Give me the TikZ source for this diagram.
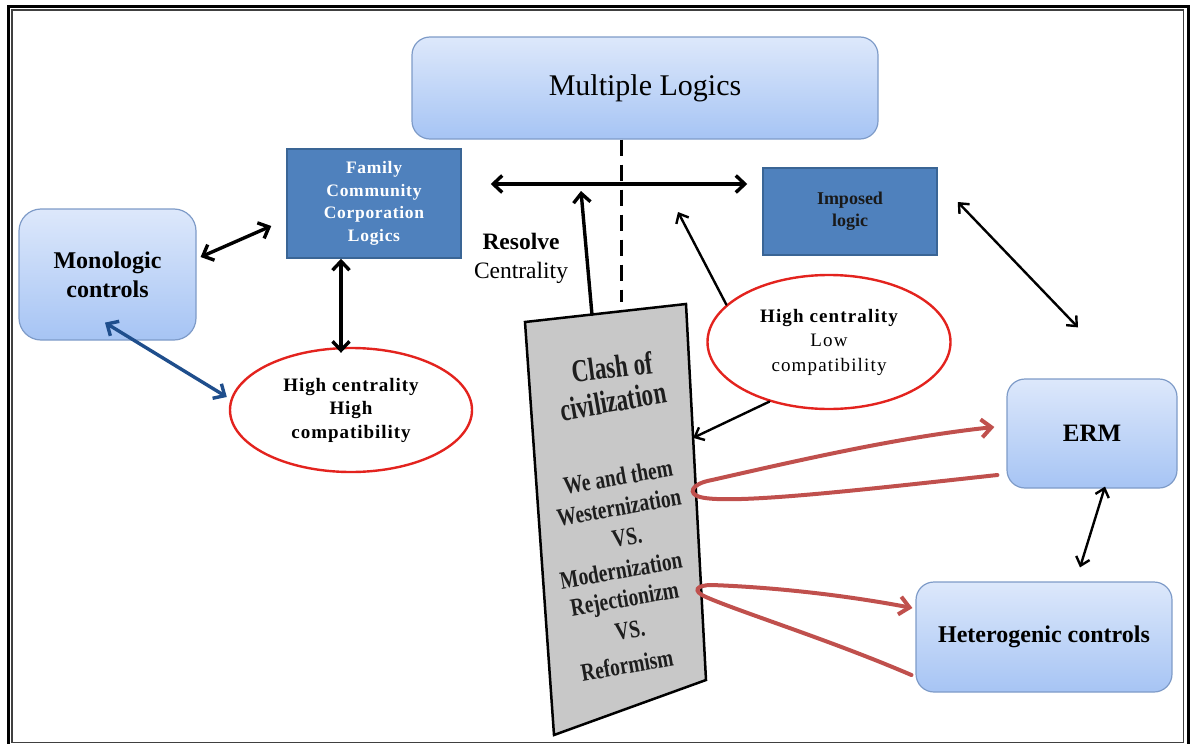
\documentclass[tikz,border=0pt]{standalone}
\usepackage{fontspec}
\setmainfont{Liberation Serif}
\usetikzlibrary{arrows.meta,calc,shapes.geometric}

\definecolor{boxtop}{HTML}{DDE8FB}
\definecolor{boxbot}{HTML}{A6C4F4}
\definecolor{boxline}{HTML}{7E9BC8}
\definecolor{logicfill}{HTML}{4F81BD}
\definecolor{logicline}{HTML}{3A6595}
\definecolor{ovalred}{HTML}{E3231E}
\definecolor{loopred}{HTML}{C0504D}
\definecolor{linkblue}{HTML}{1F4E8C}
\definecolor{clashgray}{HTML}{C8C8C8}
\definecolor{clashink}{HTML}{1E1E1E}

\newcommand{\pxsize}[2]{\fontsize{#1}{#2}\selectfont}

\begin{document}
\begin{tikzpicture}[x=1pt,y=-1pt,
  roundbox/.style={draw=boxline,line width=1.2pt,rounded corners=18pt,
    top color=boxtop,bottom color=boxbot,align=center,inner sep=0pt},
  logicbox/.style={draw=logicline,line width=1.5pt,fill=logicfill,
    align=center,inner sep=0pt},
  oval/.style={ellipse,draw=ovalred,line width=2.4pt,align=center,inner sep=0pt},
  clashtext/.style={rotate=10,xscale=0.78,text=clashink,inner sep=0pt,
    font=\bfseries\pxsize{25}{25}},
  heavy/.style={line width=3.4pt,line cap=round},
  light/.style={line width=2.4pt,line cap=round},
  twoway/.style={{Straight Barb[length=9pt,width=17pt]}-{Straight Barb[length=9pt,width=17pt]}},
  oneway/.style={-{Straight Barb[length=9pt,width=17pt]}},
  twowaysmall/.style={{Straight Barb[length=8pt,width=14pt]}-{Straight Barb[length=8pt,width=14pt]}},
  onewaysmall/.style={-{Straight Barb[length=8pt,width=14pt]}},
  redloop/.style={draw=loopred,line width=4pt,line cap=round,
    -{Straight Barb[length=10pt,width=18pt]}}
]
\useasboundingbox (0,0) rectangle (1192,744);

% double page frame
\draw[line width=3.4pt] (8.5,6.5) rectangle (1188.3,750);
\draw[line width=1.3pt,black!75] (12,10) rectangle (1183.5,742.5);

% boxes
\node[roundbox,minimum width=466pt,minimum height=102pt,font=\pxsize{30}{36}]
  (ml) at (645,88) {\raisebox{-2pt}{Multiple Logics}};
\node[logicbox,minimum width=174pt,minimum height=109pt,text=white,
  font=\bfseries\pxsize{17.5}{22.5}\addfontfeatures{LetterSpace=4}]
  (fam) at (374,203.5) {Family\\Community\\Corporation\\Logics};
\node[logicbox,minimum width=174pt,minimum height=87pt,text=black!90,
  font=\bfseries\pxsize{18}{22}]
  (imp) at (850,211.5) {\raisebox{-2pt}{Imposed}\\\raisebox{-2pt}{logic}};
\node[roundbox,rounded corners=22pt,minimum width=177pt,minimum height=131pt,
  font=\bfseries\pxsize{24}{29}]
  (mono) at (107.5,274.5) {Monologic\\controls};
\node[roundbox,minimum width=170pt,minimum height=109pt,font=\bfseries\pxsize{25}{30}]
  (erm) at (1092,433.5) {ERM};
\node[roundbox,minimum width=256pt,minimum height=110pt,font=\bfseries\pxsize{24}{30}]
  (het) at (1044,637) {Heterogenic controls};

% ovals
\node[oval,minimum width=242pt,minimum height=124pt,
  font=\bfseries\pxsize{19}{23.5}\addfontfeatures{LetterSpace=5}]
  (ell1) at (351,410) {High centrality\\High\\compatibility};
\node[oval,minimum width=243pt,minimum height=134pt,
  font=\pxsize{19}{24.5}\addfontfeatures{LetterSpace=6}]
  (ell2) at (829,342) {{\bfseries High centrality}\\Low\\compatibility};

% resolve label
\node[align=center,inner sep=0pt,font=\pxsize{23.5}{29}]
  (res) at (521,258) {\textbf{Resolve}\\Centrality};

% clash of civilization panel
\coordinate (cTL) at (525,322);
\coordinate (cTR) at (686,304);
\coordinate (cBR) at (706,680);
\coordinate (cBL) at (554,735);
\coordinate (dashend) at (621,302);
\coordinate (resolvetip) at (581,191);
\coordinate (impliedtip) at (678,212);

\draw[line width=3pt,dash pattern=on 16pt off 9pt] ([xshift=-24pt]ml.south) -- (dashend);

\draw[line width=2.5pt,fill=clashgray,line join=miter] (cTL) -- (cTR) -- (cBR) -- (cBL) -- cycle;

\node[clashtext,rotate=-3,font=\bfseries\pxsize{32}{32},xscale=0.92] (ct1) at (612,367) {Clash of};
\node[clashtext,font=\bfseries\pxsize{32}{32},xscale=0.92] (ct2) at (613,401) {civilization};
\node[clashtext] (ct3) at (618,477) {We and them};
\node[clashtext] (ct4) at (619,507) {Westernization};
\node[clashtext] (ct5) at (627,537) {VS.};
\node[clashtext] (ct6) at (621,570) {Modernization};
\node[clashtext] (ct7) at (625,601) {Rejectionizm};
\node[clashtext] (ct8) at (630,630) {VS.};
\node[clashtext] (ct9) at (627,665) {Reformism};

% connectors
\draw[heavy,twoway] ([shift={(4,-17.5)}]mono.east) -- ([shift={(-15,22.5)}]fam.west);
\draw[heavy,twoway] ([xshift=-33pt]fam.south) -- ([shift={(-10,6)}]ell1.north);
\draw[heavy,twoway,draw=linkblue] ([shift={(-2.5,-18)}]mono.south) -- ([shift={(-2,-13)}]ell1.west);
\draw[heavy,twoway] ([shift={(29,-19.5)}]fam.east) -- ([shift={(-15,-27.5)}]imp.west);
\draw[heavy,oneway] ($(cTL)!0.416!(cTR)$) -- (resolvetip);
\draw[light,onewaysmall] (ell2.160) -- (impliedtip);
\draw[light,twowaysmall] ([shift={(20,-9.5)}]imp.east) -- ([shift={(-14,-51)}]erm.north);
\draw[light,onewaysmall] (ell2.225) -- ($(cTR)!0.356!(cBR)$);
\draw[light,twowaysmall] ([shift={(13,-2)}]erm.south) -- ([shift={(36,-14)}]het.north);

% feedback loops from the panel
\draw[redloop] ([shift={(-9,41.5)}]erm.west)
  .. controls (860,490) and (730,505) .. (700,497)
  .. controls (688,494) and (690,484) .. (712,480)
  .. controls (800,460) and (900,437) .. ([shift={(-12,-6.5)}]erm.west);
\draw[redloop] ([shift={(-4,38)}]het.west)
  .. controls (830,640) and (740,612) .. (706,597)
  .. controls (692,591) and (696,585) .. (712,585)
  .. controls (790,588) and (860,598) .. ([shift={(-3,-29)}]het.west);
\end{tikzpicture}
\end{document}
